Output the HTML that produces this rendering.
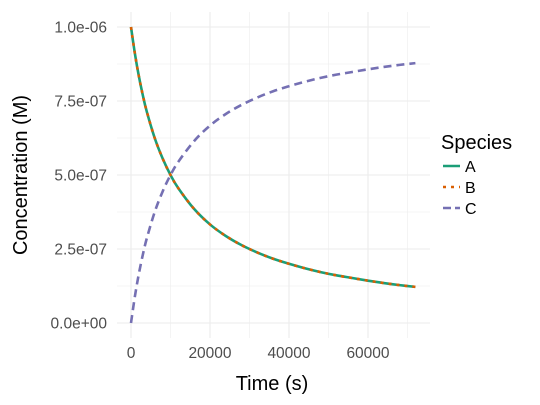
<!DOCTYPE html>
<html><head><meta charset="utf-8"><style>
body{margin:0;background:#fff;}
svg{display:block;font-family:"Liberation Sans",sans-serif;}
</style></head><body>
<svg id="chart" width="540" height="405" viewBox="0 0 540 405" xmlns="http://www.w3.org/2000/svg">
<g id="grid"></g>
<g id="series"></g>
<g id="axes"></g>
<text x="272" y="390" font-size="20" text-anchor="middle" fill="#000">Time (s)</text>
<text transform="translate(27,175) rotate(-90)" font-size="20" text-anchor="middle" fill="#000">Concentration (M)</text>
<g>
<text x="441" y="149" font-size="20" fill="#000">Species</text>
<g><line x1="443" y1="166" x2="460" y2="166" stroke="#1b9e77" stroke-width="2.5"/><text x="465" y="172" font-size="16">A</text></g>
<g><line x1="443" y1="187" x2="460" y2="187" stroke="#d95f02" stroke-width="2.5" stroke-dasharray="3,5"/><text x="465" y="193" font-size="16">B</text></g>
<g><line x1="443" y1="208" x2="460" y2="208" stroke="#7570b3" stroke-width="2.5" stroke-dasharray="8,4"/><text x="465" y="214" font-size="16">C</text></g>
</g>
</svg>
<script>
const times=[0,1000,2000,3000,4000,6000,8000,10000,12000,16000,20000,24000,28000,32000,36000,40000,44000,48000,52000,56000,60000,64000,68000,72000];
const seriesA=[1.0e-6,0.909e-6,0.833e-6,0.769e-6,0.714e-6,0.625e-6,0.556e-6,0.5e-6,0.455e-6,0.385e-6,0.333e-6,0.294e-6,0.263e-6,0.238e-6,0.217e-6,0.2e-6,0.185e-6,0.172e-6,0.161e-6,0.152e-6,0.143e-6,0.135e-6,0.128e-6,0.122e-6];
const seriesB=[1.0e-6,0.909e-6,0.833e-6,0.769e-6,0.714e-6,0.625e-6,0.556e-6,0.5e-6,0.455e-6,0.385e-6,0.333e-6,0.294e-6,0.263e-6,0.238e-6,0.217e-6,0.2e-6,0.185e-6,0.172e-6,0.161e-6,0.152e-6,0.143e-6,0.135e-6,0.128e-6,0.122e-6];
const seriesC=[0,0.091e-6,0.167e-6,0.231e-6,0.286e-6,0.375e-6,0.444e-6,0.5e-6,0.545e-6,0.615e-6,0.667e-6,0.706e-6,0.737e-6,0.762e-6,0.783e-6,0.8e-6,0.815e-6,0.828e-6,0.839e-6,0.848e-6,0.857e-6,0.865e-6,0.872e-6,0.878e-6];
const xTicks=[0,20000,40000,60000];
const xTickLabels=["0","20000","40000","60000"];
const yTicks=[0,2.5e-7,5e-7,7.5e-7,1e-6];
const yTickLabels=["0.0e+00","2.5e-07","5.0e-07","7.5e-07","1.0e-06"];
const NS="http://www.w3.org/2000/svg";
const X=v=>131+v*(79/20000);
const Y=v=>323-v*(296/1e-6);
function mk(t,a,p){const e=document.createElementNS(NS,t);for(const k in a)e.setAttribute(k,a[k]);p.appendChild(e);return e;}
const grid=document.getElementById('grid'),axes=document.getElementById('axes'),ser=document.getElementById('series');
const L=117,R=430,T=12,B=338;
for(let v=-10000;v<=80000;v+=10000){const x=X(v);if(x<L||x>R)continue;
 const g=mk('line',{x1:x,x2:x,y1:T,y2:B,stroke:'#ebebeb','stroke-width':v%20000===0?1.1:0.55},grid);
 }
for(let i=-1;i<=9;i++){const v=i*1.25e-7;const y=Y(v);if(y<T||y>B)continue;
 const g=mk('line',{x1:L,x2:R,y1:y,y2:y,stroke:'#ebebeb','stroke-width':i%2===0?1.1:0.55},grid);
 }
xTicks.forEach((v,i)=>{const t=mk('text',{x:X(v),y:358,'font-size':15.5,'text-anchor':'middle',fill:'#4d4d4d'},axes);t.textContent=xTickLabels[i];
 });
yTicks.forEach((v,i)=>{const t=mk('text',{x:107,y:Y(v)+5.5,'font-size':15.5,'text-anchor':'end',fill:'#4d4d4d'},axes);t.textContent=yTickLabels[i];
 });
function line(vals,color,dash,name){
 const P=vals.map((v,i)=>[X(times[i]),Y(v)]);
 let d='M'+P[0][0].toFixed(2)+','+P[0][1].toFixed(2);
 for(let i=0;i<P.length-1;i++){const p0=P[Math.max(i-1,0)],p1=P[i],p2=P[i+1],p3=P[Math.min(i+2,P.length-1)];
  const c1=[p1[0]+(p2[0]-p0[0])/6,p1[1]+(p2[1]-p0[1])/6],c2=[p2[0]-(p3[0]-p1[0])/6,p2[1]-(p3[1]-p1[1])/6];
  d+='C'+c1[0].toFixed(2)+','+c1[1].toFixed(2)+' '+c2[0].toFixed(2)+','+c2[1].toFixed(2)+' '+p2[0].toFixed(2)+','+p2[1].toFixed(2);}
 const p=mk('path',{d:d,fill:'none',stroke:color,'stroke-width':2.6,'stroke-dasharray':dash,'stroke-linejoin':'round'},ser);
 }
line(seriesC,'#7570b3','8,5','line-c');
line(seriesA,'#1b9e77','none','line-a');
line(seriesB,'#d95f02','3,5','line-b');
</script>
</body></html>
